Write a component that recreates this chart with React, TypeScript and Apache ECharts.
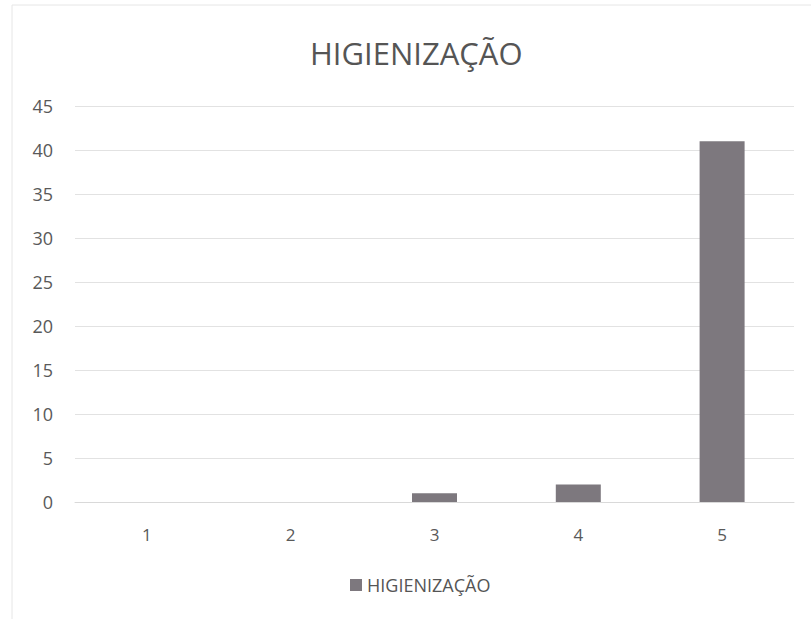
import React, { useEffect, useRef } from "react";
import * as echarts from "echarts";

const categories = ["1", "2", "3", "4", "5"];
const values = [0, 0, 1, 2, 41];
const seriesName = "HIGIENIZAÇÃO";
const titleText = "HIGIENIZAÇÃO";

export default function App() {
  const ref = useRef<HTMLDivElement>(null);
  useEffect(() => {
    if (!ref.current) return;
    const chart = echarts.init(ref.current, undefined, { renderer: "svg" });
    const font = "'Open Sans', 'Noto Sans', sans-serif";
    chart.setOption({
      animation: false,
      backgroundColor: "#ffffff",
      title: {
        text: titleText,
        left: 305,
        top: 32,
        textStyle: { fontFamily: font, fontSize: 31, fontWeight: "normal", color: "#555555" },
      },
      legend: {
        bottom: 20,
        left: 345,
        itemWidth: 12,
        itemHeight: 12,
        icon: "rect",
        itemGap: 6,
        textStyle: { fontFamily: font, fontSize: 18, color: "#555555" },
        data: [seriesName],
      },
      grid: { left: 75, right: 17, top: 106, bottom: 117, containLabel: false },
      xAxis: {
        type: "category",
        data: categories,
        axisLine: { show: true, lineStyle: { color: "#d9d9d9" } },
        axisTick: { show: false },
        axisLabel: { fontFamily: font, fontSize: 17, color: "#595959", margin: 24 },
      },
      yAxis: {
        type: "value",
        min: 0,
        max: 45,
        interval: 5,
        axisLine: { show: false },
        axisTick: { show: false },
        splitLine: { lineStyle: { color: "#e2e2e2" } },
        axisLabel: { fontFamily: font, fontSize: 18, color: "#595959", margin: 22 },
      },
      series: [
        {
          name: seriesName,
          type: "bar",
          data: values,
          barWidth: 45,
          itemStyle: { color: "#7d787e" },
        },
      ],
      graphic: [
        {
          type: "rect",
          shape: { x: 12, y: 5, width: 810, height: 620 },
          style: { fill: "none", stroke: "#e6e6e6", lineWidth: 1 },
          silent: true,
        },
      ],
    });
    return () => chart.dispose();
  }, []);
  return (
    <div
      ref={ref}
      style={{ position: "absolute", left: 0, top: 0, width: 811, height: 619 }}
    />
  );
}
